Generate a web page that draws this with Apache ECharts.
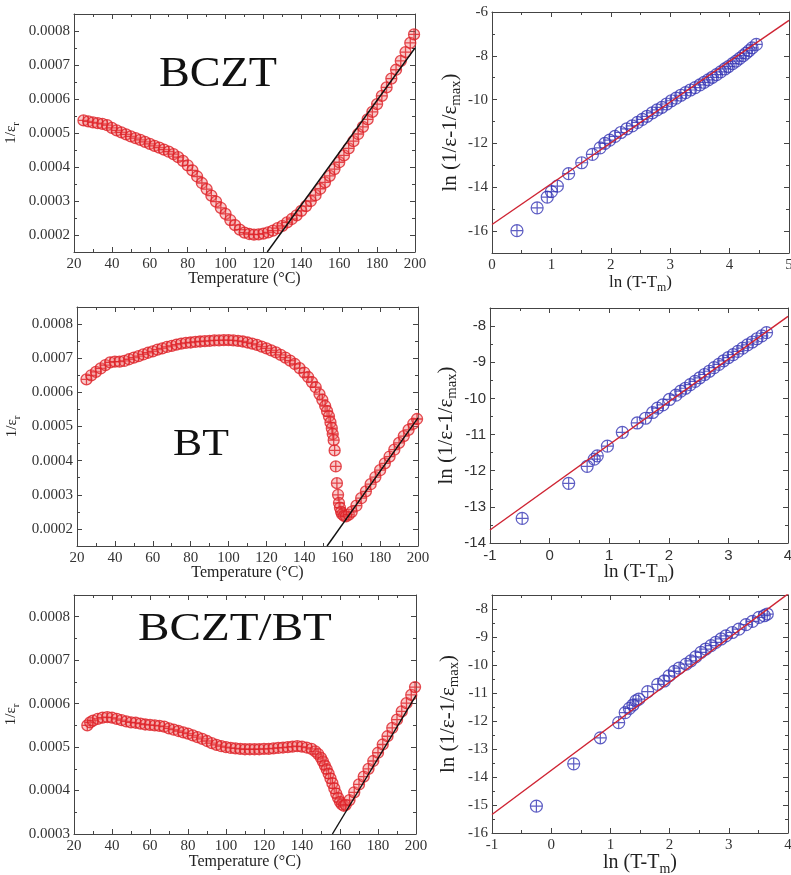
<!DOCTYPE html>
<html>
<head>
<meta charset="utf-8">
<script src="https://cdn.jsdelivr.net/npm/echarts@6.0.0/dist/echarts.min.js"></script>
<style>
  html, body { margin: 0; padding: 0; background: #fff; }
  #main { width: 791px; height: 875px; }
</style>
</head>
<body>
<div id="main"></div>
<script>
// ---- BCZT : 1/er vs temperature ----
var bcztT = [25, 27.5, 30, 32.5, 35, 37.5, 40, 42.5, 45, 47.5, 50, 52.5, 55, 57.5, 60, 62.5, 65, 67.5, 70, 72.5,
  75, 77.5, 80, 82.5, 85, 87.5, 90, 92.5, 95, 97.5, 100, 102.5, 105, 107.5, 110, 112.5, 115, 117.5, 120, 122.5,
  125, 127.5, 130, 132.5, 135, 137.5, 140, 142.5, 145, 147.5, 150, 152.5, 155, 157.5, 160, 162.5, 165, 167.5, 170, 172.5,
  175, 177.5, 180, 182.5, 185, 187.5, 190, 192.5, 195, 197.5, 199.5];
var bcztInv = [0.000537, 0.000534, 0.000531, 0.000529, 0.000527, 0.000523, 0.000515, 0.000508, 0.000502, 0.000496,
  0.00049, 0.000485, 0.00048, 0.000474, 0.000468, 0.000462, 0.000457, 0.000451, 0.000445, 0.000438,
  0.000429, 0.000418, 0.000405, 0.00039, 0.000372, 0.000353, 0.000335, 0.000316, 0.000298, 0.00028,
  0.000262, 0.000244, 0.000229, 0.000216, 0.000207, 0.000203, 0.000201, 0.000202, 0.000204, 0.000208,
  0.000213, 0.00022, 0.000227, 0.000237, 0.000247, 0.000258, 0.000271, 0.000285, 0.0003, 0.000317,
  0.000336, 0.000355, 0.000374, 0.000394, 0.000414, 0.000434, 0.000455, 0.000476, 0.000497, 0.000518,
  0.00054, 0.000562, 0.000585, 0.000609, 0.000634, 0.00066, 0.000686, 0.000712, 0.000738, 0.000765, 0.00079];
var bcztFitT = [122, 200];
var bcztFitInv = [0.00015, 0.00075];

// ---- BT ----
var btT = [25, 27.5, 30, 32.5, 35, 37.5, 40, 42.5, 45, 47.5, 50, 52.5, 55, 57.5, 60, 62.5, 65, 67.5, 70, 72.5,
  75, 77.5, 80, 82.5, 85, 87.5, 90, 92.5, 95, 97.5, 100, 102.5, 105, 107.5, 110, 112.5, 115, 117.5, 120, 122.5,
  125, 127.5, 130, 132.5, 135, 137.5, 140, 142, 144, 146, 148, 149.5, 151, 152, 153, 153.8, 154.5, 155, 155.5, 156,
  156.6, 157.2, 157.8, 158.3, 158.8, 159.4, 160, 161, 162, 163.5, 165, 167.5, 170, 172.5, 175, 177.5, 180, 182.5,
  185, 187.5, 190, 192.5, 195, 197.5, 199.5];
var btInv = [0.000638, 0.00065, 0.00066, 0.00067, 0.00068, 0.000688, 0.00069, 0.00069, 0.000692, 0.000697,
  0.000702, 0.000706, 0.000711, 0.000716, 0.00072, 0.000725, 0.000729, 0.000733, 0.000736, 0.00074,
  0.000743, 0.000745, 0.000746, 0.000748, 0.000749, 0.00075, 0.000751, 0.000752, 0.000752, 0.000753,
  0.000753, 0.000752, 0.000751, 0.000749, 0.000746, 0.000743, 0.000739, 0.000734, 0.000729, 0.000723,
  0.000717, 0.00071, 0.000702, 0.000693, 0.000683, 0.000671, 0.000658, 0.000645, 0.00063, 0.000615,
  0.000595, 0.000578, 0.00056, 0.000545, 0.00053, 0.000512, 0.000495, 0.000478, 0.00046, 0.00043,
  0.000383, 0.000334, 0.0003, 0.000276, 0.000262, 0.00025, 0.000243, 0.000238, 0.000237, 0.000242,
  0.00025, 0.000268, 0.00029, 0.00031, 0.000331, 0.000352, 0.000372, 0.000392,
  0.000412, 0.000432, 0.000452, 0.000472, 0.00049, 0.000508, 0.000522];
var btFitT = [152, 200];
var btFitInv = [0.00015, 0.000525];

// ---- BCZT/BT ----
var mixT = [27, 28.5, 30, 32.5, 35, 37.5, 40, 42.5, 45, 47.5, 50, 52.5, 55, 57.5, 60, 62.5, 65, 67.5, 70, 72.5,
  75, 77.5, 80, 82.5, 85, 87.5, 90, 92.5, 95, 97.5, 100, 102.5, 105, 107.5, 110, 112.5, 115, 117.5, 120, 122.5,
  125, 127.5, 130, 132.5, 135, 137.5, 140, 142.5, 145, 147, 148.5, 150, 151, 152, 153, 154, 155, 156, 157, 158,
  159, 160, 161, 162, 163, 165, 167.5, 170, 172.5, 175, 177.5, 180, 182.5, 185, 187.5, 190, 192.5, 195, 197.5, 199.5];
var mixInv = [0.00055, 0.000557, 0.000561, 0.000565, 0.000568, 0.000569, 0.000568, 0.000565, 0.000562, 0.000559,
  0.000557, 0.000556, 0.000554, 0.000552, 0.000551, 0.00055, 0.000549, 0.000547, 0.000543, 0.00054,
  0.000537, 0.000534, 0.000531, 0.000527, 0.000523, 0.000519, 0.000514, 0.000509, 0.000505, 0.000502,
  0.0005, 0.000498, 0.000497, 0.000496, 0.000495, 0.000495, 0.000495, 0.000495, 0.000496, 0.000496,
  0.000497, 0.000498, 0.000499, 0.0005, 0.000501, 0.000502, 0.000501, 0.000499, 0.000496, 0.00049,
  0.000484, 0.000475, 0.000467, 0.000458, 0.000449, 0.000439, 0.000428, 0.000417, 0.000405, 0.000393,
  0.000383, 0.000374, 0.000368, 0.000365, 0.000367, 0.000378, 0.000396, 0.000414, 0.000432, 0.00045,
  0.000468, 0.000487, 0.000506, 0.000525, 0.000544, 0.000563, 0.000582, 0.000601, 0.00062, 0.000638];
var mixFitT = [156, 200];
var mixFitInv = [0.0003, 0.000619];

// ---- ln plots ----
var bcztLnX = [0.42, 0.76, 0.93, 1.0, 1.1, 1.29, 1.51, 1.69, 1.82, 1.9, 1.98, 2.07, 2.17, 2.27, 2.36, 2.45, 2.53, 2.61,
  2.7, 2.78, 2.86, 2.94, 3.02, 3.1, 3.18, 3.26, 3.34, 3.42, 3.5, 3.57, 3.64, 3.71, 3.78, 3.85, 3.92, 3.98, 4.05,
  4.11, 4.17, 4.23, 4.28, 4.33, 4.38, 4.45];
var bcztLnY = [-15.98, -14.94, -14.45, -14.2, -13.95, -13.38, -12.88, -12.5, -12.2, -12.0, -11.85, -11.68, -11.5,
  -11.33, -11.2, -11.04, -10.9, -10.76, -10.6, -10.47, -10.35, -10.2, -10.05, -9.93, -9.8, -9.68, -9.56, -9.45,
  -9.33, -9.21, -9.1, -8.98, -8.86, -8.73, -8.6, -8.49, -8.36, -8.24, -8.12, -7.99, -7.88, -7.76, -7.64, -7.48];
var bcztLnFitX = [0, 5];
var bcztLnFitY = [-15.7, -6.38];

var btLnX = [-0.46, 0.32, 0.63, 0.75, 0.8, 0.97, 1.22, 1.47, 1.61, 1.73, 1.81, 1.9, 2.01, 2.12, 2.2, 2.28, 2.36, 2.44,
  2.52, 2.6, 2.68, 2.76, 2.84, 2.92, 3.0, 3.08, 3.16, 3.24, 3.32, 3.4, 3.48, 3.56, 3.64];
var btLnY = [-13.32, -12.35, -11.88, -11.68, -11.59, -11.32, -10.94, -10.68, -10.55, -10.39, -10.27, -10.18, -10.03,
  -9.91, -9.8, -9.72, -9.62, -9.53, -9.43, -9.34, -9.25, -9.15, -9.06, -8.96, -8.87, -8.79, -8.7, -8.61, -8.52,
  -8.44, -8.35, -8.27, -8.18];
var btLnFitX = [-1, 4];
var btLnFitY = [-13.64, -7.73];

var mixLnX = [-0.25, 0.38, 0.83, 1.14, 1.25, 1.32, 1.38, 1.43, 1.48, 1.63, 1.8, 1.91, 1.99, 2.08, 2.16, 2.28, 2.36,
  2.44, 2.53, 2.61, 2.7, 2.78, 2.87, 2.95, 3.06, 3.17, 3.29, 3.4, 3.51, 3.6, 3.65];
var mixLnY = [-15.04, -13.53, -12.6, -12.06, -11.7, -11.55, -11.43, -11.28, -11.22, -10.95, -10.69, -10.57, -10.39,
  -10.23, -10.11, -9.97, -9.85, -9.71, -9.55, -9.43, -9.31, -9.19, -9.07, -8.96, -8.84, -8.72, -8.56, -8.44,
  -8.3, -8.24, -8.18];
var mixLnFitX = [-1, 4];
var mixLnFitY = [-15.34, -7.46];

var serif = '"Liberation Serif", "Times New Roman", serif';
var sans = '"Liberation Sans", Arial, sans-serif';
var ink = '#444';
var sym = 'path://M20,10A10,10,0,1,1,0,10A10,10,0,1,1,20,10ZM0,10L20,10M10,0L10,20';

function zip(a, b) {
    return a.map(function(v, i) { return [v, b[i]]; });
}

function richName(size, subSize) {
    return {
        color: '#222',
        fontFamily: serif,
        rich: {
            n: { fontSize: size, fontFamily: serif, color: '#222', lineHeight: size + 6 },
            s: { fontSize: subSize, fontFamily: serif, color: '#222', lineHeight: subSize, verticalAlign: 'bottom' }
        }
    };
}

function xAxisPair(grid, c) {
    var base = {
        type: 'value', gridIndex: grid, min: c.min, max: c.max, interval: c.interval,
        axisLine: { show: true, onZero: false, lineStyle: { color: ink, width: 1 } },
        axisTick: { show: true, inside: true, length: 5, lineStyle: { color: ink } },
        minorTick: { show: true, splitNumber: 2, length: 3, lineStyle: { color: ink } },
        splitLine: { show: false }
    };
    var bottom = Object.assign({}, base, {
        position: 'bottom',
        axisLabel: { margin: 5, fontSize: 15, fontFamily: c.font, color: '#333' },
        name: c.name, nameLocation: 'middle', nameGap: c.nameGap, nameMoveOverlap: false,
        nameTextStyle: richName(c.nameSize, c.nameSize * 0.7)
    });
    var top = Object.assign({}, base, { position: 'top', axisLabel: { show: false } });
    return [bottom, top];
}

function yAxisPair(grid, c) {
    var base = {
        type: 'value', gridIndex: grid, min: c.min, max: c.max,
        interval: c.interval, splitNumber: c.split,
        axisLine: { show: true, onZero: false, lineStyle: { color: ink, width: 1 } },
        axisTick: { show: true, inside: true, length: 5, lineStyle: { color: ink } },
        minorTick: { show: true, splitNumber: 2, length: 3, lineStyle: { color: ink } },
        splitLine: { show: false }
    };
    var left = Object.assign({}, base, {
        position: 'left',
        axisLabel: { margin: 4, fontSize: 15, fontFamily: c.font, color: '#333',
            showMinLabel: c.showMin, showMaxLabel: c.showMax },
        name: c.name, nameLocation: 'middle', nameGap: c.nameGap, nameMoveOverlap: false,
        nameTextStyle: richName(c.nameSize, c.nameSize * 0.7)
    });
    var right = Object.assign({}, base, { position: 'right', axisLabel: { show: false } });
    return [left, right];
}

var grids = [
    { left: 74, top: 14, width: 341, height: 238 },
    { left: 492, top: 12, width: 297, height: 241 },
    { left: 77, top: 307, width: 341, height: 239 },
    { left: 490, top: 308, width: 298, height: 235 },
    { left: 74, top: 595, width: 342, height: 239 },
    { left: 492, top: 595, width: 296, height: 238 }
].map(function(g) { return Object.assign({ outerBoundsMode: 'none', containLabel: false }, g); });

var tName = '{n|Temperature (°C)}';
var invName = '{n|1/ε}{s|r}';
var lnYName = '{n|ln (1/ε-1/ε}{s|max}{n|)}';
var lnXName = '{n|ln (T-T}{s|m}{n|)}';

var xAxes = [].concat(
    xAxisPair(0, { min: 20, max: 200, interval: 20, font: serif, name: tName, nameGap: 16, nameSize: 16 }),
    xAxisPair(1, { min: 0, max: 5, interval: 1, font: serif, name: lnXName, nameGap: 18, nameSize: 17 }),
    xAxisPair(2, { min: 20, max: 200, interval: 20, font: serif, name: tName, nameGap: 16, nameSize: 16 }),
    xAxisPair(3, { min: -1, max: 4, interval: 1, font: sans, name: lnXName, nameGap: 17, nameSize: 19 }),
    xAxisPair(4, { min: 20, max: 200, interval: 20, font: serif, name: tName, nameGap: 17, nameSize: 16 }),
    xAxisPair(5, { min: -1, max: 4, interval: 1, font: serif, name: lnXName, nameGap: 17, nameSize: 20 })
);

var yAxes = [].concat(
    yAxisPair(0, { min: 0.00015, max: 0.00085, split: 7, font: serif, showMin: false, showMax: false,
        name: invName, nameGap: 52, nameSize: 15 }),
    yAxisPair(1, { min: -17, max: -6, split: 5, font: serif, showMin: false, showMax: true,
        name: lnYName, nameGap: 28, nameSize: 21 }),
    yAxisPair(2, { min: 0.00015, max: 0.00085, split: 7, font: serif, showMin: false, showMax: false,
        name: invName, nameGap: 54, nameSize: 15 }),
    yAxisPair(3, { min: -14, max: -7.5, interval: 1, font: sans, showMin: true, showMax: false,
        name: lnYName, nameGap: 30, nameSize: 21 }),
    yAxisPair(4, { min: 0.0003, max: 0.00085, interval: 0.0001, font: serif, showMin: true, showMax: false,
        name: invName, nameGap: 52, nameSize: 15 }),
    yAxisPair(5, { min: -16, max: -7.5, interval: 1, font: serif, showMin: true, showMax: false,
        name: lnYName, nameGap: 30, nameSize: 21 })
);

function redSeries(p, xs, ys) {
    return {
        type: 'scatter', xAxisIndex: 2 * p, yAxisIndex: 2 * p, data: zip(xs, ys),
        symbol: sym, symbolSize: 11, z: 2,
        itemStyle: { color: 'rgba(238,110,110,0.45)', borderColor: '#dd1f26', borderWidth: 1.3 }
    };
}
function blueSeries(p, xs, ys) {
    return {
        type: 'scatter', xAxisIndex: 2 * p, yAxisIndex: 2 * p, data: zip(xs, ys),
        symbol: sym, symbolSize: 12, z: 2,
        itemStyle: { color: 'rgba(255,255,255,0)', borderColor: '#3434b4', borderWidth: 1.2 }
    };
}
function fitSeries(p, xs, ys, color) {
    return {
        type: 'line', xAxisIndex: 2 * p, yAxisIndex: 2 * p, data: zip(xs, ys),
        symbol: 'none', z: 3, clip: true,
        lineStyle: { color: color, width: 1.4 }
    };
}

var labels = [
    { text: 'BCZT', x: 218, y: 75, size: 42, sx: 1.1 },
    { text: 'BT', x: 201, y: 445, size: 38, sx: 1.15 },
    { text: 'BCZT/BT', x: 235, y: 629, size: 41, sx: 1.15 }
];

var chart = echarts.init(document.getElementById('main'));
chart.setOption({
    animation: false,
    backgroundColor: '#fff',
    grid: grids,
    xAxis: xAxes,
    yAxis: yAxes,
    graphic: labels.map(function(l) {
        return {
            type: 'text', x: l.x, y: l.y, scaleX: l.sx, z: 10,
            style: { text: l.text, fontSize: l.size, fontFamily: serif, fill: '#111',
                align: 'center', verticalAlign: 'middle' }
        };
    }),
    series: [
        redSeries(0, bcztT, bcztInv),
        fitSeries(0, bcztFitT, bcztFitInv, '#111'),
        blueSeries(1, bcztLnX, bcztLnY),
        fitSeries(1, bcztLnFitX, bcztLnFitY, '#cf2433'),
        redSeries(2, btT, btInv),
        fitSeries(2, btFitT, btFitInv, '#111'),
        blueSeries(3, btLnX, btLnY),
        fitSeries(3, btLnFitX, btLnFitY, '#cf2433'),
        redSeries(4, mixT, mixInv),
        fitSeries(4, mixFitT, mixFitInv, '#111'),
        blueSeries(5, mixLnX, mixLnY),
        fitSeries(5, mixLnFitX, mixLnFitY, '#cf2433')
    ]
});
</script>
</body>
</html>
